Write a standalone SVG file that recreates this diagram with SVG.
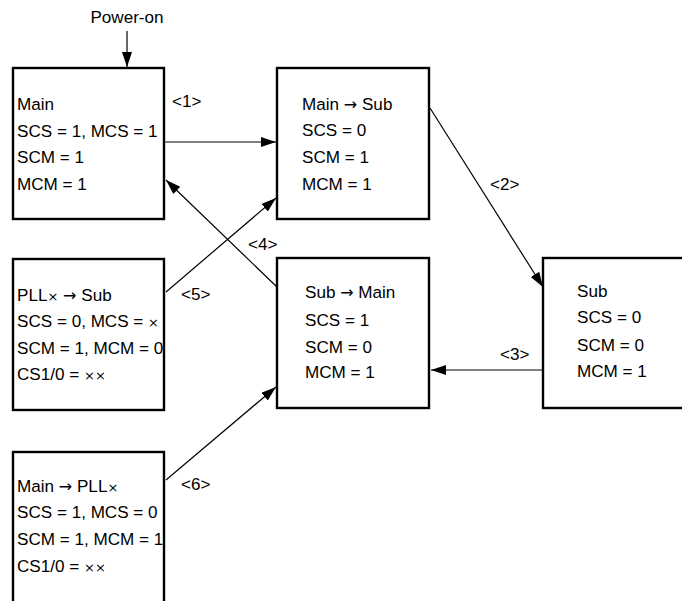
<svg xmlns="http://www.w3.org/2000/svg" width="682" height="601" viewBox="0 0 682 601">
<style>
text{font-family:"Liberation Sans",Arial,sans-serif;font-size:17.1px;fill:#000}
.ar{font-family:"DejaVu Sans",sans-serif;font-size:16px}
.x{font-family:"DejaVu Sans",sans-serif;font-size:13px}
.box{fill:#fff;stroke:#000;stroke-width:2.4}
.c{stroke:#000;stroke-width:1.2;fill:none}
</style>
<defs>
<marker id="ah" markerUnits="userSpaceOnUse" markerWidth="16" markerHeight="12" refX="15" refY="5" orient="auto">
<path d="M0,0 L15,5 L0,10 Z" fill="#000"/>
</marker>
</defs>
<rect width="682" height="601" fill="#fff"/>
<g id="connectors">
<line class="c" x1="127" y1="31" x2="127" y2="67" marker-end="url(#ah)"/>
<line class="c" x1="165" y1="142" x2="276" y2="142" marker-end="url(#ah)"/>
<line class="c" x1="430" y1="108" x2="543" y2="287" marker-end="url(#ah)"/>
<line class="c" x1="542" y1="370" x2="431" y2="370" marker-end="url(#ah)"/>
<line class="c" x1="277" y1="287" x2="166" y2="180" marker-end="url(#ah)"/>
<line class="c" x1="166" y1="292" x2="276" y2="198" marker-end="url(#ah)"/>
<line class="c" x1="166" y1="480" x2="276" y2="387" marker-end="url(#ah)"/>
<text x="172" y="107">&lt;1&gt;</text>
<text x="490" y="190">&lt;2&gt;</text>
<text x="500" y="360">&lt;3&gt;</text>
<text x="248" y="250">&lt;4&gt;</text>
<text x="181" y="300">&lt;5&gt;</text>
<text x="181" y="490">&lt;6&gt;</text>
</g>
<g id="power-on">
<text x="127" y="23" text-anchor="middle">Power-on</text>
</g>
<g id="main">
<rect class="box" x="13" y="68" width="151" height="151"/>
<text x="17" y="110">Main</text>
<text x="17" y="137">SCS = 1, MCS = 1</text>
<text x="17" y="163">SCM = 1</text>
<text x="17" y="190">MCM = 1</text>
</g>
<g id="main-to-sub">
<rect class="box" x="277" y="68" width="152" height="151"/>
<text x="302" y="110">Main <tspan class="ar">→</tspan> Sub</text>
<text x="302" y="136">SCS = 0</text>
<text x="302" y="163">SCM = 1</text>
<text x="302" y="190">MCM = 1</text>
</g>
<g id="sub">
<rect class="box" x="543" y="258" width="160" height="150"/>
<text x="577" y="297">Sub</text>
<text x="577" y="323">SCS = 0</text>
<text x="577" y="351">SCM = 0</text>
<text x="577" y="377">MCM = 1</text>
</g>
<g id="sub-to-main">
<rect class="box" x="277" y="258" width="152" height="150"/>
<text x="305" y="298">Sub <tspan class="ar">→</tspan> Main</text>
<text x="305" y="326">SCS = 1</text>
<text x="305" y="353">SCM = 0</text>
<text x="305" y="378">MCM = 1</text>
</g>
<g id="pll-to-sub">
<rect class="box" x="13" y="259" width="151" height="151"/>
<text x="17" y="301">PLL<tspan class="x">×</tspan> <tspan class="ar">→</tspan> Sub</text>
<text x="17" y="327">SCS = 0, MCS = <tspan class="x">×</tspan></text>
<text x="17" y="354">SCM = 1, MCM = 0</text>
<text x="17" y="380">CS1/0 = <tspan class="x">××</tspan></text>
</g>
<g id="main-to-pll">
<rect class="box" x="13" y="452" width="151" height="170"/>
<text x="17" y="492">Main <tspan class="ar">→</tspan> PLL<tspan class="x">×</tspan></text>
<text x="17" y="518">SCS = 1, MCS = 0</text>
<text x="17" y="545">SCM = 1, MCM = 1</text>
<text x="17" y="572">CS1/0 = <tspan class="x">××</tspan></text>
</g>
</svg>
